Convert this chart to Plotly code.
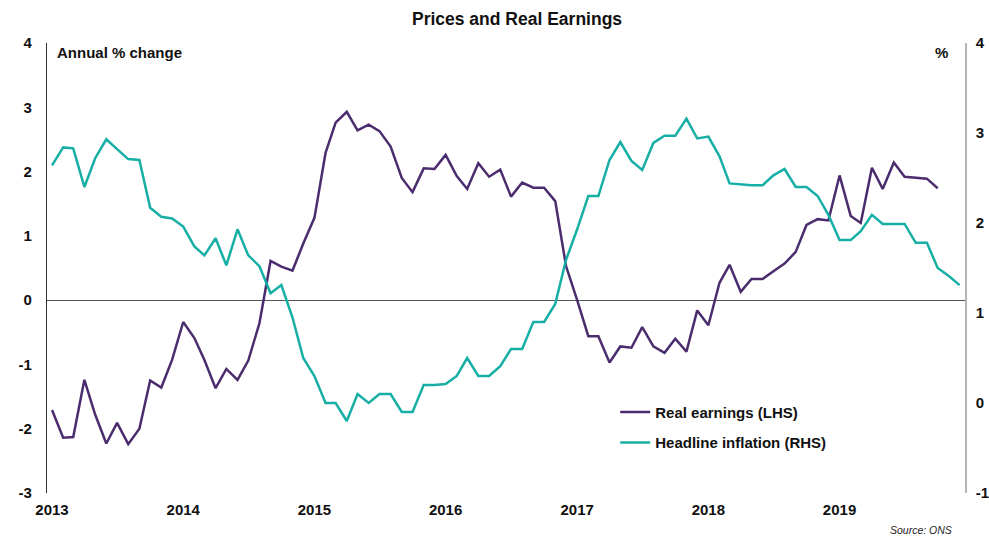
import pandas as pd
import plotly.graph_objects as go

# ---- data ----
months = pd.date_range("2013-01-01", periods=84, freq="MS")
year_ticks = ["2013-01-01", "2014-01-01", "2015-01-01", "2016-01-01",
              "2017-01-01", "2018-01-01", "2019-01-01"]
year_labels = ["2013", "2014", "2015", "2016", "2017", "2018", "2019"]

real_earnings = [
    -1.71, -2.14, -2.13, -1.24, -1.78, -2.23, -1.91, -2.24, -2.00, -1.25, -1.36, -0.93,
    -0.34, -0.59, -0.93, -1.37, -1.07, -1.24, -0.94, -0.36, 0.61, 0.52, 0.46, 0.88,
    1.28, 2.29, 2.76, 2.93, 2.64, 2.73, 2.63, 2.39, 1.90, 1.68, 2.05, 2.04,
    2.26, 1.93, 1.73, 2.13, 1.92, 2.03, 1.61, 1.83, 1.75, 1.75, 1.54, 0.53,
    0.00, -0.56, -0.56, -0.97, -0.72, -0.74, -0.42, -0.72, -0.82, -0.60, -0.80, -0.16,
    -0.39, 0.27, 0.55, 0.13, 0.33, 0.33, 0.45, 0.57, 0.75, 1.17, 1.26, 1.24,
    1.94, 1.31, 1.20, 2.06, 1.73, 2.14, 1.92, 1.90, 1.89, 1.74,
]

headline_inflation = [
    2.64, 2.84, 2.83, 2.40, 2.72, 2.93, 2.82, 2.71, 2.70, 2.17, 2.07, 2.05,
    1.96, 1.74, 1.64, 1.83, 1.53, 1.93, 1.64, 1.52, 1.22, 1.31, 0.95, 0.50,
    0.30, 0.00, 0.00, -0.20, 0.10, 0.00, 0.10, 0.10, -0.10, -0.10, 0.20, 0.20,
    0.21, 0.30, 0.50, 0.30, 0.30, 0.41, 0.60, 0.60, 0.90, 0.90, 1.10, 1.59,
    1.93, 2.30, 2.30, 2.70, 2.90, 2.69, 2.59, 2.89, 2.97, 2.97, 3.16, 2.94,
    2.96, 2.74, 2.44, 2.43, 2.42, 2.42, 2.53, 2.60, 2.40, 2.40, 2.30, 2.09,
    1.81, 1.81, 1.91, 2.09, 1.99, 1.99, 1.99, 1.78, 1.78, 1.50, 1.41, 1.31,
]

left_ticks = [-3, -2, -1, 0, 1, 2, 3, 4]
left_labels = ["-3", "-2", "-1", "0", "1", "2", "3", "4"]
right_ticks = [-1, 0, 1, 2, 3, 4]
right_labels = ["-1", "0", "1", "2", "3", "4"]

PURPLE = "#4B2D6E"
TEAL = "#17AFA5"
FONT = "Liberation Sans, Arial, sans-serif"

fig = go.Figure()
fig.add_trace(go.Scatter(
    x=months[:len(real_earnings)], y=real_earnings, mode="lines",
    name="Real earnings (LHS)", line=dict(color=PURPLE, width=2.5),
    yaxis="y", legendgroup="a"))
fig.add_trace(go.Scatter(
    x=months[:len(headline_inflation)], y=headline_inflation, mode="lines",
    name="Headline inflation (RHS)", line=dict(color=TEAL, width=2.5),
    yaxis="y2", legendgroup="b"))

tickfont = dict(family=FONT, size=15, color="#111111", weight="bold")

fig.update_layout(
    width=989, height=536, autosize=False,
    margin=dict(l=47, r=24, t=43, b=43),
    paper_bgcolor="white", plot_bgcolor="white",
    font=dict(family=FONT, color="#111111"),
    title=dict(text="<b>Prices and Real Earnings</b>", x=0.512, xref="paper",
               xanchor="center", y=1 - 19 / 536, yref="container", yanchor="middle",
               font=dict(family=FONT, size=17.5, color="#111111")),
    showlegend=True,
    legend=dict(x=0.619, y=0.216, xanchor="left", yanchor="top",
                bgcolor="rgba(0,0,0,0)", tracegroupgap=8,
                font=dict(family=FONT, size=15, color="#111111", weight="bold")),
    xaxis=dict(
        type="date", range=["2012-12-18", "2019-12-16"], automargin=False,
        tickvals=year_ticks, ticktext=year_labels, ticks="",
        showgrid=False, showline=False, zeroline=False,
        tickfont=tickfont, ticklabelstandoff=6),
    yaxis=dict(
        range=[-3, 4], tickvals=left_ticks, ticktext=left_labels, ticks="",
        automargin=False,
        showgrid=False, showline=True, linecolor="#333333", linewidth=1.3,
        zeroline=True, zerolinecolor="#555555", zerolinewidth=1.2,
        tickfont=tickfont, ticklabelstandoff=11),
    yaxis2=dict(
        range=[-1, 4], tickvals=right_ticks, ticktext=right_labels, ticks="",
        overlaying="y", side="right", automargin=False,
        showgrid=False, showline=True, linecolor="#b5b5b5", linewidth=1.6,
        zeroline=False, tickfont=tickfont, ticklabelstandoff=6),
    annotations=[
        dict(text="<b>Annual % change</b>", xref="paper", yref="paper",
             x=(55 - 47) / 918, y=(493 - 52.7) / 450, xanchor="left", yanchor="middle",
             showarrow=False, font=dict(family=FONT, size=15, color="#111111")),
        dict(text="<b>%</b>", xref="paper", yref="paper",
             x=(941 - 47) / 918, y=(493 - 52.7) / 450, xanchor="center", yanchor="middle",
             showarrow=False, font=dict(family=FONT, size=15, color="#111111")),
        dict(text="<i>Source: ONS</i>", xref="paper", yref="paper",
             x=(954 - 47) / 918, y=(493 - 530) / 450, xanchor="right", yanchor="middle",
             showarrow=False, font=dict(family=FONT, size=10.5, color="#222222")),
    ],
)

fig.write_html(
    "out.html",
    config={"responsive": False, "displayModeBar": False},
    post_script=("document.documentElement.style.overflow='hidden';"
                 "document.body.style.overflow='hidden';"
                 "document.body.style.margin='0';document.body.style.padding='0';"),
)
